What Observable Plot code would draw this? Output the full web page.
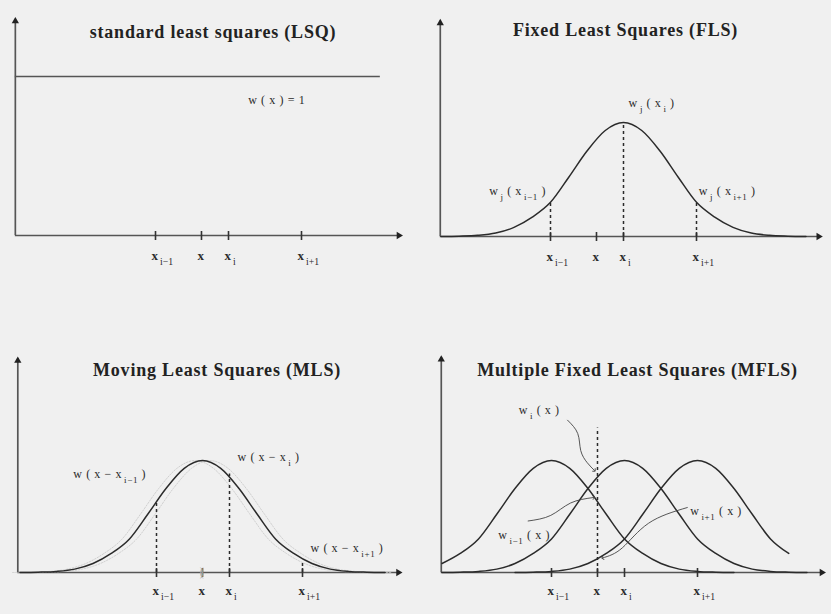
<!DOCTYPE html>
<html>
<head>
<meta charset="utf-8">
<script src="https://cdn.jsdelivr.net/npm/d3@7"></script>
<script src="https://cdn.jsdelivr.net/npm/@observablehq/plot@0.6"></script>
<style>
  body { margin: 0; background: #f0f0f0; }
  #fig { position: relative; width: 831px; height: 614px; overflow: hidden; }
  #fig svg { position: absolute; }
</style>
</head>
<body>
<div id="fig"></div>
<script>
// ---- data -------------------------------------------------------------
// Nodes along the axis, in units of node spacing (x_i at 0).
const nodeLabels = ["x_{i\u22121}", "x", "x_{i}", "x_{i+1}"];
const nodePositions = [-1, -0.37, 0, 1];

// Bell-shaped weight function: offset from its centre and relative weight.
const bellOffsets = [-2.5, -2.25, -2, -1.75, -1.5, -1.25, -1, -0.75, -0.5, -0.25, 0,
                     0.25, 0.5, 0.75, 1, 1.25, 1.5, 1.75, 2, 2.25, 2.5];
const bellWeights = [0, 0.003, 0.01, 0.03, 0.08, 0.17, 0.30, 0.52, 0.75, 0.93, 1,
                     0.93, 0.75, 0.52, 0.30, 0.17, 0.08, 0.03, 0.01, 0.003, 0];

const panelTitles = [
  "standard least squares (LSQ)",
  "Fixed Least Squares (FLS)",
  "Moving Least Squares (MLS)",
  "Multiple Fixed Least Squares (MFLS)"
];

// LSQ: constant weight
const lsqWeight = 1;
const lsqLabel = "w ( x ) = 1";

// FLS: one weight function fixed at x_i, sampled at the nodes
const flsCentre = 0;
const flsSampleAt = [-1, 0, 1];
const flsSampleWeight = [0.30, 1, 0.30];
const flsLabels = ["w_{j} ( x_{i\u22121} )", "w_{j} ( x_{i} )", "w_{j} ( x_{i+1} )"];

// MLS: weight function centred at the evaluation point x
const mlsCentre = -0.37;
const mlsShadowCentres = [-0.47, -0.27];
const mlsSampleAt = [-1, 0, 1];
const mlsSampleWeight = [0.64, 0.88, 0.10];
const mlsLabels = ["w ( x \u2212 x_{i\u22121} )", "w ( x \u2212 x_{i} )", "w ( x \u2212 x_{i+1} )"];

// MFLS: one fixed weight function per node, evaluated at x
const mflsCentres = [-1, 0, 1];
const mflsFrom = [-1.5, -2.5, -2.5];
const mflsTo = [2.5, 2.5, 1.25];
const mflsEvalAt = -0.37;
const mflsEvalTop = 1.29;
const mflsLabels = ["w_{i} ( x )", "w_{i\u22121} ( x )", "w_{i+1} ( x )"];
const mflsLeaderU = [
  [-0.78, -0.64, -0.60, -0.51, -0.41],
  [-1.32, -1.01, -0.74, -0.42],
  [0.86, 0.33, -0.03, -0.30]
];
const mflsLeaderW = [
  [1.36, 1.24, 1.09, 0.98, 0.91],
  [0.46, 0.51, 0.62, 0.67],
  [0.58, 0.44, 0.22, 0.13]
];

// ---- helpers ----------------------------------------------------------
const ink = "#2b2b2b";
const serif = "Liberation Serif, Times New Roman, serif";
const titleSize = 18;
const labelSize = 12;

function bell(centre, from = -2.5, to = 2.5) {
  return bellOffsets
    .map((o, i) => ({o, u: centre + o, w: bellWeights[i]}))
    .filter(d => d.o >= from - 1e-9 && d.o <= to + 1e-9);
}

const nodes = nodeLabels.map((name, i) => ({name, u: nodePositions[i]}));

// short vertical tick drawn as a dot symbol
const tickSymbol = {draw(ctx) { ctx.moveTo(0, -4.5); ctx.lineTo(0, 4.5); }};

// turn "a_{b}" into subscript tspans; widen the letter spacing of the serif text
function finish(svg) {
  svg.querySelectorAll("text").forEach(t => {
    const s = t.textContent;
    if (!s.includes("_{")) return;
    const parts = s.split(/_\{([^}]*)\}/);
    while (t.firstChild) t.removeChild(t.firstChild);
    let low = false;
    parts.forEach((p, i) => {
      if (p === "") return;
      const ts = document.createElementNS("http://www.w3.org/2000/svg", "tspan");
      ts.textContent = p;
      if (i % 2) {
        ts.setAttribute("dy", "5");
        ts.setAttribute("dx", "2");
        ts.setAttribute("font-size", "0.75em");
        ts.setAttribute("font-weight", "normal");
        low = true;
      } else if (low) {
        ts.setAttribute("dy", "-5");
        low = false;
      }
      t.appendChild(ts);
    });
  });
  svg.querySelectorAll(`[font-size="${titleSize}"]`).forEach(g => g.setAttribute("letter-spacing", "0.8"));
  svg.querySelectorAll(`[font-size="${labelSize}"]`).forEach(g => g.setAttribute("letter-spacing", "0.6"));
}

function axes(cfg) {
  return [
    Plot.ruleY([0], {x1: cfg.axisStart, x2: cfg.axisEnd, stroke: "#555", strokeWidth: 1.7}),
    Plot.ruleX([cfg.axisStart], {y1: 0, y2: cfg.yTop, stroke: "#555", strokeWidth: 1.7}),
    Plot.dot([0], {x: cfg.axisEnd, y: 0, dx: -2, symbol: "triangle", rotate: 90, r: 2.7, fill: "#222", stroke: null}),
    Plot.dot([0], {x: cfg.axisStart, y: cfg.yTop, dy: 2, symbol: "triangle", r: 2.7, fill: "#222", stroke: null}),
    Plot.dot(nodes, {x: "u", y: 0, symbol: tickSymbol, fill: "none", stroke: "#333", strokeWidth: 1.6}),
    Plot.text(nodes, {
      x: "u", y: 0, text: "name", dy: cfg.labelDy, dx: -4, textAnchor: "start",
      fontFamily: serif, fontSize: 13, fontWeight: "bold", fill: ink
    })
  ];
}

function panel(cfg, title, marks) {
  const svg = Plot.plot({
    width: cfg.width, height: cfg.height, margin: 0,
    x: {domain: [0, 1], range: cfg.xRange, axis: null},
    y: {domain: [0, 1], range: cfg.yRange, axis: null},
    style: {background: "transparent", fontFamily: serif, overflow: "visible"},
    marks: [
      ...axes(cfg),
      Plot.text([title], {
        frameAnchor: "top", lineAnchor: "middle", dx: cfg.titleDx, dy: cfg.titleDy,
        fontFamily: serif, fontSize: titleSize, fontWeight: "bold", fill: "#222"
      }),
      ...marks
    ]
  });
  finish(svg);
  svg.style.left = cfg.left + "px";
  svg.style.top = cfg.top + "px";
  document.getElementById("fig").append(svg);
}

const labelStyle = {fontFamily: serif, fontSize: labelSize, fill: ink, textAnchor: "start"};
const curveStyle = {x: "u", y: "w", curve: "monotone-x", stroke: ink, strokeWidth: 1.5};
const dashStyle = {stroke: ink, strokeWidth: 1.5, strokeDasharray: "3,3"};

// ---- LSQ --------------------------------------------------------------
panel(
  {left: 0, top: 0, width: 415, height: 307, xRange: [228, 301], yRange: [235, 76],
   axisStart: -2.92, axisEnd: 2.36, yTop: 1.36, labelDy: 20, titleDx: 5, titleDy: 32},
  panelTitles[0],
  [
    Plot.ruleY([lsqWeight], {x1: -2.92, x2: 2.08, stroke: "#555", strokeWidth: 1.6}),
    Plot.text([lsqLabel], {x: 0.27, y: 0.85, ...labelStyle})
  ]
);

// ---- FLS --------------------------------------------------------------
panel(
  {left: 415, top: 0, width: 416, height: 307, xRange: [208, 281], yRange: [236, 122],
   axisStart: -2.51, axisEnd: 2.70, yTop: 1.89, labelDy: 20, titleDx: 2, titleDy: 30},
  panelTitles[1],
  [
    Plot.line(bell(flsCentre), curveStyle),
    Plot.ruleX(flsSampleAt, {x: d => d, y1: 0, y2: (d, i) => flsSampleWeight[i], ...dashStyle}),
    Plot.text(flsLabels, {x: [-1.84, 0.07, 1.03], y: [0.40, 1.17, 0.40], text: d => d, ...labelStyle})
  ]
);

// ---- MLS --------------------------------------------------------------
panel(
  {left: 0, top: 307, width: 415, height: 307, xRange: [229, 302], yRange: [265, 153],
   axisStart: -2.90, axisEnd: 2.34, yTop: 1.91, labelDy: 18, titleDx: 9, titleDy: 63},
  panelTitles[2],
  [
    ...mlsShadowCentres.map(c =>
      Plot.line(bell(c), {x: "u", y: "w", curve: "monotone-x", stroke: "#c8c8c8", strokeWidth: 0.8, strokeDasharray: "1.5,1.5"})),
    Plot.line(bell(mlsCentre), curveStyle),
    Plot.ruleX(mlsSampleAt, {x: d => d, y1: 0, y2: (d, i) => mlsSampleWeight[i], ...dashStyle}),
    Plot.text(["(", ")"], {x: mlsCentre, y: 0, dy: 18, dx: [-8, 7], text: d => d, fontFamily: serif, fontSize: 12, fill: "#aaa", textAnchor: "middle"}),
    Plot.text(mlsLabels, {x: [-2.14, 0.11, 1.11], y: [0.88, 1.03, 0.22], text: d => d, ...labelStyle})
  ]
);

// ---- MFLS -------------------------------------------------------------
const leaders = mflsLeaderU.flatMap((us, k) => us.map((u, j) => ({k, u, w: mflsLeaderW[k][j]})));
panel(
  {left: 415, top: 307, width: 416, height: 307, xRange: [209, 282], yRange: [265, 153],
   axisStart: -2.51, axisEnd: 2.73, yTop: 1.92, labelDy: 18, titleDx: 14, titleDy: 63},
  panelTitles[3],
  [
    ...mflsCentres.map((c, i) => Plot.line(bell(c, mflsFrom[i], mflsTo[i]), curveStyle)),
    Plot.ruleX([mflsEvalAt], {y1: 0, y2: mflsEvalTop, ...dashStyle}),
    Plot.line(leaders, {x: "u", y: "w", z: "k", curve: "natural", stroke: "#444", strokeWidth: 0.9, markerEnd: "arrow"}),
    Plot.text(mflsLabels, {x: [-1.45, -1.73, 0.90], y: [1.45, 0.33, 0.55], text: d => d, ...labelStyle})
  ]
);
</script>
</body>
</html>
